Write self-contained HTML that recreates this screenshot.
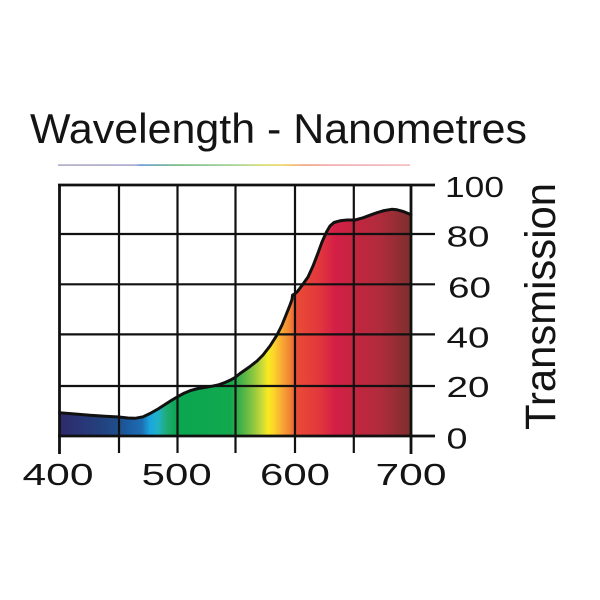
<!DOCTYPE html>
<html>
<head>
<meta charset="utf-8">
<style>
html,body{margin:0;padding:0;background:#fff;}
svg{display:block;}
text{font-family:"Liberation Sans",Arial,sans-serif;fill:#141414;}
</style>
</head>
<body>
<svg width="600" height="600" viewBox="0 0 600 600" xmlns="http://www.w3.org/2000/svg">
  <defs>
    <linearGradient id="spec" gradientUnits="userSpaceOnUse" x1="59.5" y1="0" x2="411" y2="0">
      <stop offset="0" stop-color="#2e2a6c"/>
      <stop offset="0.115" stop-color="#24407e"/>
      <stop offset="0.166" stop-color="#1f4f8c"/>
      <stop offset="0.2" stop-color="#1c5ea4"/>
      <stop offset="0.235" stop-color="#1e6eb4"/>
      <stop offset="0.257" stop-color="#19a6e0"/>
      <stop offset="0.28" stop-color="#20b3c6"/>
      <stop offset="0.306" stop-color="#1fab72"/>
      <stop offset="0.334" stop-color="#0aa650"/>
      <stop offset="0.485" stop-color="#12a84e"/>
      <stop offset="0.513" stop-color="#3daf4a"/>
      <stop offset="0.548" stop-color="#86c441"/>
      <stop offset="0.576" stop-color="#c9d93a"/>
      <stop offset="0.593" stop-color="#f7ea1f"/>
      <stop offset="0.61" stop-color="#fcd42a"/>
      <stop offset="0.633" stop-color="#f8a834"/>
      <stop offset="0.659" stop-color="#f07e34"/>
      <stop offset="0.673" stop-color="#ea4c36"/>
      <stop offset="0.741" stop-color="#e2363d"/>
      <stop offset="0.784" stop-color="#d41f47"/>
      <stop offset="0.84" stop-color="#c3253f"/>
      <stop offset="0.912" stop-color="#b02c3c"/>
      <stop offset="1" stop-color="#7d2e2e"/>
    </linearGradient>
    <linearGradient id="rain" gradientUnits="userSpaceOnUse" x1="58" y1="0" x2="410" y2="0">
      <stop offset="0" stop-color="#b8b3cc"/>
      <stop offset="0.22" stop-color="#aeb0d0"/>
      <stop offset="0.235" stop-color="#6fa3d8"/>
      <stop offset="0.34" stop-color="#7fbf8a"/>
      <stop offset="0.5" stop-color="#a9d49c"/>
      <stop offset="0.58" stop-color="#d7e07c"/>
      <stop offset="0.64" stop-color="#f2d66e"/>
      <stop offset="0.7" stop-color="#f3a98c"/>
      <stop offset="0.78" stop-color="#f2b2b6"/>
      <stop offset="1" stop-color="#f3c0c4"/>
    </linearGradient>
  </defs>

  <!-- Title -->
  <text x="30" y="143" font-size="42" textLength="497" lengthAdjust="spacingAndGlyphs">Wavelength - Nanometres</text>

  <!-- rainbow line -->
  <rect x="58" y="164.2" width="352" height="1.8" fill="url(#rain)"/>

  <!-- Filled spectrum area -->
  <path fill="url(#spec)" d="M59.5,436 L59.5,412.7 L75,414 L90,415.3 L105,416.2 L119,417 L128,418 L135,418.3 L143,416.8 L150,413.5 L158,409 L165,404.5 L172,400 L177.5,396.8 L184,393.2 L190,390.7 L198,388.5 L205,387.4 L212,386.2 L218,385 L225,382.5 L230,380.3 L235,377.5 L240,373.5 L245,370 L250,366.5 L257,361 L263,355 L270,346 L277,335 L282,325 L286,315 L290,305 L292,299.5 L292.6,295 L294,294.4 L297,292 L302,285.5 L308,277 L313,266 L318,253 L322,242 L326.5,232 L330,226 L334,222.5 L340,220.8 L347,220 L355,220 L363,217.8 L370,215.2 L377,212.7 L384,210.6 L391.7,209.3 L397,209.8 L403,211.4 L410,214.3 L411,214.6 L411,436 Z"/>

  <!-- Grid -->
  <g stroke="#111" stroke-width="2.2" fill="none">
    <line x1="59.5" y1="234" x2="435" y2="234"/>
    <line x1="59.5" y1="284.3" x2="435" y2="284.3"/>
    <line x1="59.5" y1="334.4" x2="435" y2="334.4"/>
    <line x1="59.5" y1="386" x2="435" y2="386"/>
    <line x1="119" y1="185" x2="119" y2="453"/>
    <line x1="177.5" y1="185" x2="177.5" y2="453"/>
    <line x1="235.5" y1="185" x2="235.5" y2="453"/>
    <line x1="295" y1="185" x2="295" y2="453"/>
    <line x1="353.8" y1="185" x2="353.8" y2="453"/>
  </g>
  <g stroke="#111" stroke-width="2.8" fill="none">
    <line x1="58" y1="185" x2="435" y2="185"/>
    <line x1="58" y1="436" x2="435" y2="436"/>
    <line x1="59.5" y1="184" x2="59.5" y2="454"/>
    <line x1="411" y1="184" x2="411" y2="454"/>
  </g>

  <!-- curve outline -->
  <path fill="none" stroke="#111" stroke-width="3" stroke-linejoin="round" stroke-linecap="round" d="M59.5,412.7 L75,414 L90,415.3 L105,416.2 L119,417 L128,418 L135,418.3 L143,416.8 L150,413.5 L158,409 L165,404.5 L172,400 L177.5,396.8 L184,393.2 L190,390.7 L198,388.5 L205,387.4 L212,386.2 L218,385 L225,382.5 L230,380.3 L235,377.5 L240,373.5 L245,370 L250,366.5 L257,361 L263,355 L270,346 L277,335 L282,325 L286,315 L290,305 L292,299.5 L292.6,295 L294,294.4 L297,292 L302,285.5 L308,277 L313,266 L318,253 L322,242 L326.5,232 L330,226 L334,222.5 L340,220.8 L347,220 L355,220 L363,217.8 L370,215.2 L377,212.7 L384,210.6 L391.7,209.3 L397,209.8 L403,211.4 L410,214.3 L411,214.6"/>

  <!-- Bottom labels -->
  <g font-size="31" text-anchor="middle">
    <text x="58" y="485" textLength="71" lengthAdjust="spacingAndGlyphs">400</text>
    <text x="176.7" y="485" textLength="70" lengthAdjust="spacingAndGlyphs">500</text>
    <text x="295" y="485" textLength="70" lengthAdjust="spacingAndGlyphs">600</text>
    <text x="411" y="485" textLength="71" lengthAdjust="spacingAndGlyphs">700</text>
  </g>

  <!-- Right labels -->
  <g font-size="29">
    <text x="445" y="197" textLength="59" lengthAdjust="spacingAndGlyphs">100</text>
    <text x="446.5" y="246.5" textLength="43" lengthAdjust="spacingAndGlyphs">80</text>
    <text x="448" y="297.5" textLength="43" lengthAdjust="spacingAndGlyphs">60</text>
    <text x="446.5" y="347.5" textLength="43" lengthAdjust="spacingAndGlyphs">40</text>
    <text x="446.5" y="397" textLength="43" lengthAdjust="spacingAndGlyphs">20</text>
    <text x="446.5" y="448.5" textLength="21" lengthAdjust="spacingAndGlyphs">0</text>
  </g>

  <!-- Y axis title -->
  <text transform="translate(555,430) rotate(-90)" x="0" y="0" font-size="43" textLength="247" lengthAdjust="spacingAndGlyphs">Transmission</text>
</svg>
</body>
</html>
